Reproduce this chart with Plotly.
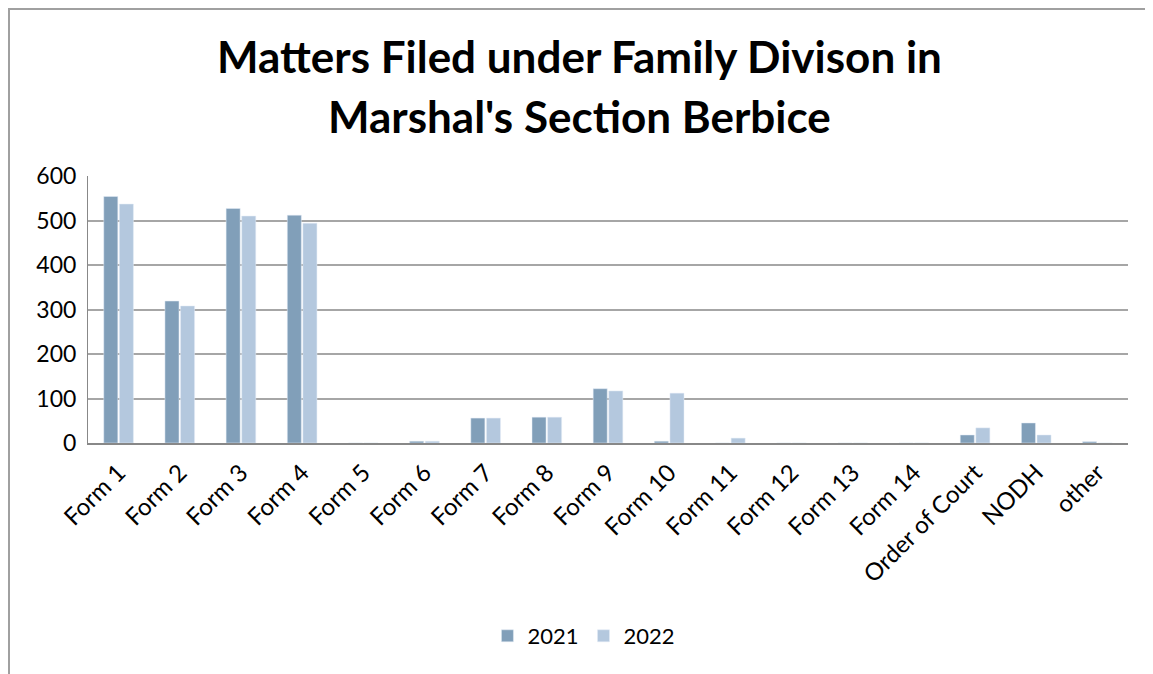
import plotly.graph_objects as go

categories = ["Form 1", "Form 2", "Form 3", "Form 4", "Form 5", "Form 6", "Form 7", "Form 8",
              "Form 9", "Form 10", "Form 11", "Form 12", "Form 13", "Form 14",
              "Order of Court", "NODH", "other"]
values_2021 = [554, 319, 527, 512, 0, 4, 56, 58, 122, 4, 0, 0, 0, 0, 18, 45, 3]
values_2022 = [537, 308, 510, 494, 0, 4, 56, 58, 117, 112, 11, 0, 0, 0, 34, 18, 0]
y_ticks = [0, 100, 200, 300, 400, 500, 600]
title_lines = ["Matters Filed under Family Divison in", "Marshal's Section Berbice"]

font_family = "Lato, 'Open Sans', sans-serif"

# page is offset by the 8px body margin
L, T, PW, PH = 80, 168, 1040, 267
W, H = 1145, 666

fig = go.Figure()
fig.add_trace(go.Bar(name="2021", x=categories, y=values_2021, marker_color="#819FB9"))
fig.add_trace(go.Bar(name="2022", x=categories, y=values_2022, marker_color="#B4C8DE"))

fig.update_layout(
    width=W, height=H,
    paper_bgcolor="white", plot_bgcolor="white",
    margin=dict(l=L, r=W - L - PW, t=T, b=H - T - PH, autoexpand=False),
    barmode="group", bargap=0.49, bargroupgap=0.1,
    font=dict(family=font_family, size=23, color="black"),
    legend=dict(orientation="h", x=0.503, xref="container", xanchor="center",
                y=(H - 628) / H, yanchor="middle", yref="container",
                font=dict(size=22), itemwidth=30),
    showlegend=True,
)
for line, py in zip(title_lines, [48, 108]):
    fig.add_annotation(text="<b>" + line + "</b>", xref="paper", yref="paper",
                       x=(571 - L) / PW, y=(T + PH - py) / PH, xanchor="center", yanchor="middle",
                       showarrow=False, font=dict(family=font_family, size=44, color="black"))

fig.update_xaxes(tickangle=-45, showgrid=False, showline=True, linecolor="#888888", linewidth=2,
                 ticks="", tickfont=dict(size=24), automargin=False, ticklabelstandoff=4)
fig.update_yaxes(range=[0, 600], tickvals=y_ticks, showgrid=True, gridcolor="#A6A6A6", gridwidth=2,
                 showline=True, linecolor="#888888", linewidth=1, zeroline=False,
                 ticks="", tickfont=dict(size=23), ticklabelstandoff=6, automargin=False)
fig.add_shape(type="rect", xref="paper", yref="paper",
              x0=(1 - L) / PW, x1=(W + 10 - L) / PW, y0=(T + PH - H - 10) / PH, y1=(T + PH - 1) / PH,
              line=dict(color="#A0A0A0", width=2), layer="below")
fig.write_html("out.html")
